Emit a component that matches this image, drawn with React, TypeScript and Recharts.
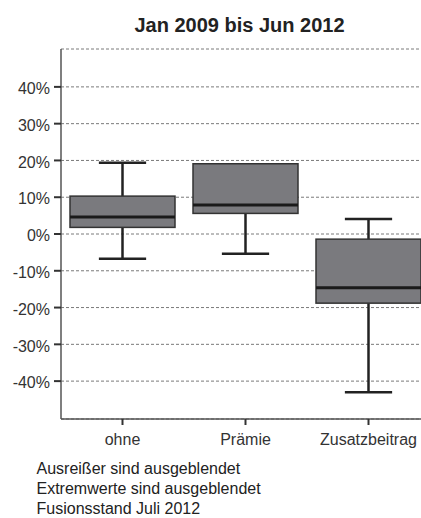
import React from "react";
import { ComposedChart, Bar, XAxis, YAxis, CartesianGrid } from "recharts";

// Boxplot values in percent
const categories = ["ohne", "Prämie", "Zusatzbeitrag"];
const whiskerLow = [-6.7, -5.4, -43.0];
const quartile1 = [1.8, 5.6, -18.8];
const medians = [4.6, 7.9, -14.6];
const quartile3 = [10.3, 19.1, -1.4];
const whiskerHigh = [19.4, 19.1, 4.1];

const yTicks = [-40, -30, -20, -10, 0, 10, 20, 30, 40];
const footnotes = [
  "Ausreißer sind ausgeblendet",
  "Extremwerte sind ausgeblendet",
  "Fusionsstand Juli 2012",
];
const title = "Jan 2009 bis Jun 2012";

const data = categories.map((name, i) => ({
  name,
  low: whiskerLow[i],
  q1: quartile1[i],
  median: medians[i],
  q3: quartile3[i],
  high: whiskerHigh[i],
}));

const FONT = '"Liberation Sans", Arial, sans-serif';

const BoxShape = (props: any) => {
  const { x, y, width, height, payload } = props;
  if (!payload) return null;
  const top = Math.min(y, y + height);
  const bottom = Math.max(y, y + height);
  const span = payload.high - payload.low;
  const py = (v: number) => bottom - ((v - payload.low) / span) * (bottom - top);
  const cx = x + width / 2;
  const capW = width * 0.45;
  const yLow = py(payload.low);
  const yQ1 = py(payload.q1);
  const yMed = py(payload.median);
  const yQ3 = py(payload.q3);
  const yHigh = py(payload.high);
  const whisker = { stroke: "#222", strokeWidth: 2.5 };
  return (
    <g>
      {payload.high > payload.q3 && (
        <>
          <line x1={cx} x2={cx} y1={yHigh} y2={yQ3} {...whisker} />
          <line x1={cx - capW / 2} x2={cx + capW / 2} y1={yHigh} y2={yHigh} {...whisker} />
        </>
      )}
      {payload.low < payload.q1 && (
        <>
          <line x1={cx} x2={cx} y1={yQ1} y2={yLow} {...whisker} />
          <line x1={cx - capW / 2} x2={cx + capW / 2} y1={yLow} y2={yLow} {...whisker} />
        </>
      )}
      <rect
        x={x}
        y={yQ3}
        width={width}
        height={yQ1 - yQ3}
        fill="#7a7a7e"
        stroke="#333"
        strokeWidth={1.5}
      />
      <line x1={x} x2={x + width} y1={yMed} y2={yMed} stroke="#1a1a1a" strokeWidth={3} />
    </g>
  );
};

export default function App() {
  return (
    <div
      style={{
        position: "absolute",
        left: 0,
        top: 0,
        width: 421,
        height: 518,
        overflow: "hidden",
        background: "#fff",
        fontFamily: FONT,
      }}
    >
      <div
        style={{
          position: "absolute",
          left: 0,
          top: 12.5,
          width: 479,
          textAlign: "center",
          fontSize: 20,
          lineHeight: "24px",
          fontWeight: "bold",
          color: "#222",
        }}
      >
        {title}
      </div>
      <div style={{ position: "absolute", left: 0, top: 0 }}>
        <ComposedChart
          width={440}
          height={518}
          data={data}
          margin={{ top: 49, right: 10, bottom: 69, left: 0 }}
        >
          <CartesianGrid vertical={false} stroke="#7a7a7a" strokeDasharray="3 2" />
          <XAxis
            dataKey="name"
            height={30}
            tickSize={6}
            tickMargin={9}
            axisLine={{ stroke: "#555", strokeWidth: 1.5 }}
            tickLine={{ stroke: "#333", strokeWidth: 2 }}
            tick={{ fontSize: 16, fill: "#333", fontFamily: FONT }}
          />
          <XAxis
            xAxisId="frame"
            dataKey="name"
            orientation="top"
            height={0}
            tick={false}
            tickLine={false}
            axisLine={{ stroke: "#555", strokeWidth: 1.5 }}
          />
          <YAxis
            width={61}
            domain={[-50.3, 50.3]}
            ticks={yTicks}
            interval={0}
            tickSize={7}
            tickMargin={4}
            tickFormatter={(v) => `${v}%`}
            axisLine={{ stroke: "#555", strokeWidth: 1.5 }}
            tickLine={{ stroke: "#333", strokeWidth: 2 }}
            tick={{ fontSize: 16, fill: "#333", fontFamily: FONT, dy: 1.5 }}
          />
          <Bar
            dataKey={(d: any) => [d.low, d.high]}
            barSize={105}
            shape={<BoxShape />}
            isAnimationActive={false}
          />
        </ComposedChart>
      </div>
      <div
        style={{
          position: "absolute",
          left: 36.5,
          top: 459.2,
          fontSize: 16,
          lineHeight: "20px",
          color: "#222",
          whiteSpace: "nowrap",
        }}
      >
        {footnotes.map((t) => (
          <div key={t}>{t}</div>
        ))}
      </div>
    </div>
  );
}
